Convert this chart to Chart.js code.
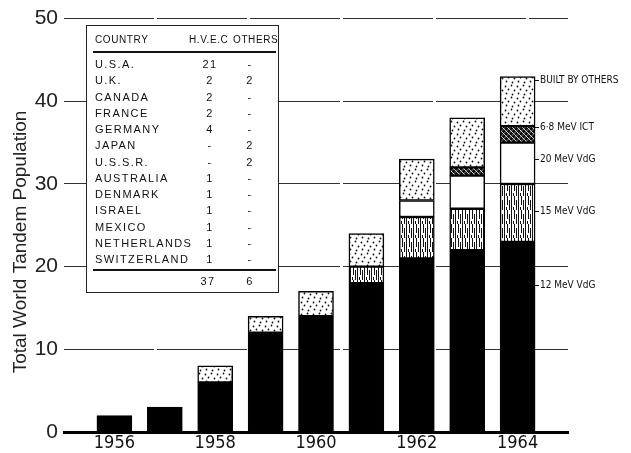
<!DOCTYPE html>
<html><head><meta charset="utf-8">
<script src="https://cdn.jsdelivr.net/npm/chart.js@4.4.1/dist/chart.umd.min.js"></script>
<style>html,body{margin:0;padding:0;background:#fff}#wrap{position:relative;width:631px;height:453px}</style>
</head><body><div id="wrap"><canvas id="c"></canvas></div>
<script>
// ---- data ----
const years = [1956, 1957, 1958, 1959, 1960, 1961, 1962, 1963, 1964];
const mev12 = [2, 3, 6, 12, 14, 18, 21, 22, 23];
const mev15 = [0, 0, 0, 0, 0, 2, 5, 5, 7];
const mev20 = [0, 0, 0, 0, 0, 0, 2, 4, 5];
const ict68 = [0, 0, 0, 0, 0, 0, 0, 1, 2];
const builtByOthers = [0, 0, 2, 2, 3, 4, 5, 6, 6];
const seriesLabels = ['12 MeV VdG', '15 MeV VdG', '20 MeV VdG', '6\u00B78 MeV ICT', 'BUILT BY OTHERS'];
const xTickLabels = [1956, 1958, 1960, 1962, 1964];
const yTickValues = [0, 10, 20, 30, 40, 50];
const yTitle = 'Total World Tandem Population';
const tableHeader = ['COUNTRY', 'H.V.E.C', 'OTHERS'];
const countries = ['U.S.A.', 'U.K.', 'CANADA', 'FRANCE', 'GERMANY', 'JAPAN', 'U.S.S.R.', 'AUSTRALIA', 'DENMARK', 'ISRAEL', 'MEXICO', 'NETHERLANDS', 'SWITZERLAND'];
const hvecCounts = [21, 2, 2, 2, 4, 0, 0, 1, 1, 1, 1, 1, 1];
const otherCounts = [0, 2, 0, 0, 0, 2, 2, 0, 0, 0, 0, 0, 0];

const CONDENSED = '"DejaVu Sans Condensed", "Liberation Sans Narrow", "Liberation Sans", sans-serif';

// ---- patterns ----
function tile(w, h, draw) {
  const c = document.createElement('canvas');
  c.width = w; c.height = h;
  const g = c.getContext('2d');
  g.fillStyle = '#fff'; g.fillRect(0, 0, w, h);
  g.fillStyle = '#111'; g.strokeStyle = '#111';
  draw(g);
  return document.getElementById('c').getContext('2d').createPattern(c, 'repeat');
}
const dotPattern = tile(12, 12, g => {
  [[1,2],[7,1],[4,5],[10,6],[2,9],[8,10]].forEach(([x,y]) => { g.beginPath(); g.arc(x+0.5, y+0.5, 0.9, 0, Math.PI*2); g.fill(); });
});
const streakPattern = tile(7, 14, g => {
  g.fillRect(0, 0, 1, 14);
  g.fillRect(3, 0, 1, 9);
  g.fillRect(5, 4, 1, 10);
  g.fillRect(2, 11, 1, 3);
});
const hatchPattern = tile(5, 5, g => {
  g.fillStyle = '#444'; g.fillRect(0, 0, 5, 5);
  g.lineWidth = 1.6; g.strokeStyle = '#000';
  g.beginPath(); g.moveTo(-1, 6); g.lineTo(6, -1); g.moveTo(-1, 1); g.lineTo(1, -1); g.moveTo(4, 6); g.lineTo(6, 4); g.stroke();
  g.lineWidth = 0.8; g.strokeStyle = '#fff';
  g.beginPath(); g.moveTo(0, 0); g.lineTo(5, 5); g.stroke();
});

const fills = ['#000', streakPattern, '#fff', hatchPattern, dotPattern];
const seriesData = [mev12, mev15, mev20, ict68, builtByOthers];

const datasets = seriesData.map((arr, k) => ({
  label: seriesLabels[k],
  data: years.map((yr, i) => ({ x: yr, y: arr[i] })),
  backgroundColor: fills[k],
  borderColor: '#000',
  borderWidth: 1.5,
  borderSkipped: false,
  barThickness: 35
}));

// ---- annotation plugins ----
const extras = {
  id: 'extras',
  afterDraw(chart) {
    const ctx = chart.ctx;
    ctx.save();
    // y axis title
    ctx.fillStyle = '#222';
    ctx.font = '19px "Liberation Sans"';
    ctx.textAlign = 'center'; ctx.textBaseline = 'middle';
    ctx.translate(21, 242); ctx.rotate(-Math.PI / 2);
    ctx.fillText(yTitle, 0, 0);
    ctx.restore();

    // right-side series labels
    ctx.save();
    const labelY = [285, 211, 159, 127, 80];
    ctx.fillStyle = '#111'; ctx.strokeStyle = '#111'; ctx.lineWidth = 1;
    ctx.font = '10px ' + CONDENSED;
    ctx.textAlign = 'left'; ctx.textBaseline = 'middle';
    seriesLabels.forEach((t, k) => {
      const y = labelY[k];
      ctx.beginPath(); ctx.moveTo(535, y + 0.5); ctx.lineTo(539, y + 0.5); ctx.stroke();
      ctx.fillText(t, 540, y);
    });
    ctx.restore();

    // country table
    ctx.save();
    ctx.fillStyle = '#fff';
    ctx.fillRect(86, 25, 192, 268);
    ctx.strokeStyle = '#222'; ctx.lineWidth = 1;
    ctx.strokeRect(86.5, 25.5, 192, 267);
    ctx.fillStyle = '#111';
    ctx.textBaseline = 'middle';
    ctx.font = '10px "Liberation Sans"';
    try { ctx.letterSpacing = '0.6px'; } catch (e) {}
    ctx.textAlign = 'left';
    ctx.fillText(tableHeader[0], 95, 40);
    ctx.fillText(tableHeader[1], 189, 40);
    ctx.fillText(tableHeader[2], 233, 40);
    ctx.lineWidth = 2.2; ctx.strokeStyle = '#111';
    ctx.beginPath(); ctx.moveTo(93, 52); ctx.lineTo(276, 52); ctx.stroke();
    ctx.beginPath(); ctx.moveTo(93, 270); ctx.lineTo(276, 270); ctx.stroke();
    ctx.font = '11px "Liberation Sans"';
    try { ctx.letterSpacing = '1.4px'; } catch (e) {}
    countries.forEach((name, i) => {
      const y = 65 + i * 16.25;
      ctx.textAlign = 'left';
      ctx.fillText(name, 95, y);
      ctx.textAlign = 'center';
      ctx.fillText(hvecCounts[i] ? String(hvecCounts[i]) : '-', 210, y);
      ctx.fillText(otherCounts[i] ? String(otherCounts[i]) : '-', 250, y);
    });
    const sum = a => a.reduce((s, v) => s + v, 0);
    ctx.textAlign = 'center';
    ctx.fillText(String(sum(hvecCounts)), 208, 282);
    ctx.fillText(String(sum(otherCounts)), 250, 282);
    ctx.restore();
  }
};

new Chart(document.getElementById('c'), {
  type: 'bar',
  data: { datasets },
  plugins: [extras],
  options: {
    responsive: true,
    maintainAspectRatio: false,
    animation: false,
    layout: { padding: { top: 15, right: 63, bottom: 0, left: 0 } },
    plugins: { legend: { display: false }, tooltip: { enabled: false } },
    scales: {
      x: {
        type: 'linear',
        stacked: true,
        offset: false,
        min: 1955, max: 1965,
        afterBuildTicks: s => { s.ticks = xTickLabels.map(v => ({ value: v })); },
        afterFit: s => { s.height = 21; },
        grid: { display: false, drawTicks: false, offset: false },
        border: { display: true, width: 3, color: '#000' },
        ticks: { callback: v => String(v), padding: 1, color: '#111', font: { family: CONDENSED, size: 18 }, maxRotation: 0, autoSkip: false }
      },
      y: {
        stacked: true,
        min: 0, max: 50,
        afterBuildTicks: s => { s.ticks = yTickValues.map(v => ({ value: v })); },
        afterFit: s => { s.width = 64; },
        grid: { color: '#333', lineWidth: 1, drawTicks: false },
        border: { display: false, dash: [90, 3] },
        ticks: { padding: 6, color: '#222', font: { family: '"Liberation Sans"', size: 21 } }
      }
    }
  }
});
</script>
</body></html>
